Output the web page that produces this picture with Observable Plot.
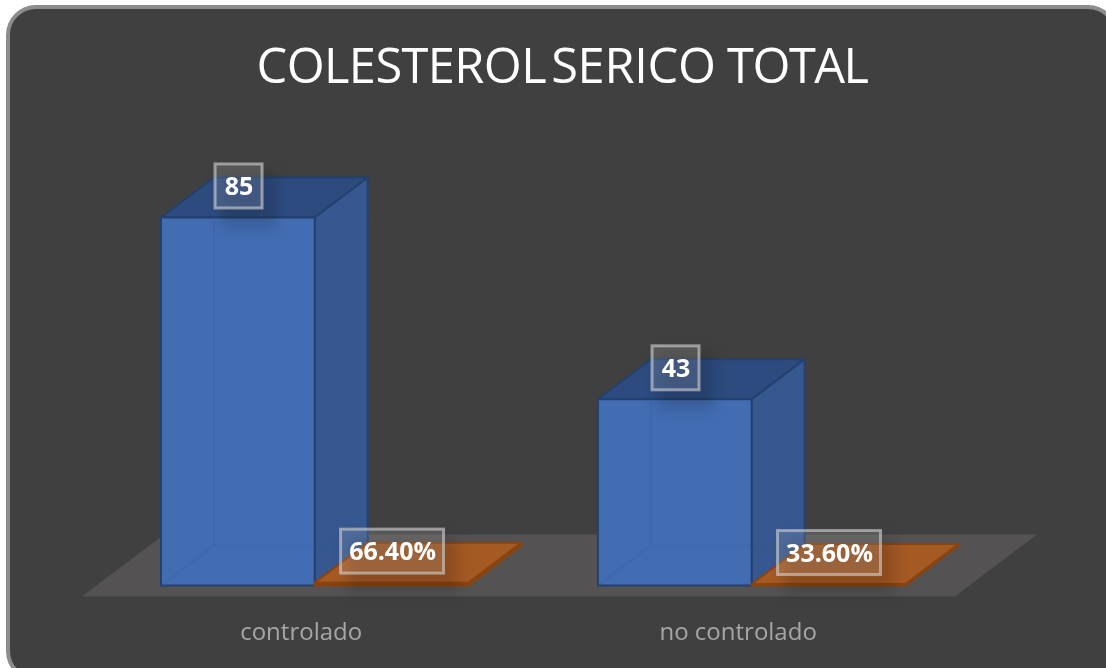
<!DOCTYPE html>
<html lang="es">
<head>
<meta charset="utf-8">
<script src="https://cdn.jsdelivr.net/npm/d3@7"></script>
<script src="https://cdn.jsdelivr.net/npm/@observablehq/plot@0.6"></script>
<style>
  html, body { margin: 0; padding: 0; background: #fff; width: 1106px; height: 668px; overflow: hidden; }
  #frame { position: absolute; left: 6px; top: 5px; width: 1112px; height: 676px; box-sizing: border-box;
           background: #404040; border: 4px solid #8c8c8c; border-radius: 30px; filter: blur(0.6px); }
  #title { position: absolute; left: 256.5px; top: 31px; margin: 0; color: #fff; filter: blur(0.35px);
           font: 400 48.8px "Open Sans", sans-serif; letter-spacing: -0.6px; white-space: nowrap; }
  #title .w1 { word-spacing: -6px; margin-right: -1px; }
  #title .w2 { letter-spacing: -0.3px; word-spacing: -1px; }
  #title .w3 { letter-spacing: -1.5px; }
  #chart { position: absolute; left: 0; top: 0; filter: blur(0.4px); }
  #chart svg { background: transparent !important; }
</style>
</head>
<body>
<div id="frame"></div>
<h1 id="title"><span class="w1">COLESTEROL </span><span class="w2">SERICO </span><span class="w3">TOTAL</span></h1>
<div id="chart"></div>
<script>
const categories = ["controlado", "no controlado"];
const casos = [85, 43];
const porcentajes = [0.664, 0.336];
const porcentajeLabels = ["66.40%", "33.60%"];

// layout of the oblique projection (in scale units)
const W = 1106, H = 668, floorPx = 596, basePx = 585, leftPx = 161;
const barPx = 153.7, valuePx = 4.33, slot = 2.843;
const depthX = 53 / barPx, depthY = 40 / valuePx;
const px = n => n / barPx, py = n => n / valuePx;
const proj = (x, v, z) => ({x: x + z * depthX, y: v + z * depthY});

function poly(points, id) { return points.map(p => ({...p, id})); }
function faces(x0, v) {
  const x1 = x0 + 1, P = proj;
  return {
    front:  poly([P(x0,0,0), P(x1,0,0), P(x1,v,0), P(x0,v,0)], "f" + x0),
    top:    poly([P(x0,v,0), P(x1,v,0), P(x1,v,1), P(x0,v,1)], "t" + x0),
    side:   poly([P(x1,0,0), P(x1,0,1), P(x1,v,1), P(x1,v,0)], "s" + x0),
    inner:  [...poly([P(x0,v,1), P(x0,0,1), P(x1,0,1)], "a" + x0), ...poly([P(x0,0,0), P(x0,0,1)], "b" + x0)]
  };
}
const blue = categories.map((_, i) => faces(i * slot, casos[i]));
const orange = categories.map((_, i) => faces(i * slot + 1, porcentajes[i]));
const pick = (set, k) => set.flatMap(f => f[k]);

const floorZ0 = -0.275, floorZ1 = 1.275, floorL = -0.42, floorR = 5.26;
const floor = poly([proj(floorL,0,floorZ0), proj(floorR,0,floorZ0), proj(floorR,0,floorZ1), proj(floorL,0,floorZ1)], "floor");

const labels = [
  ...categories.map((_, i) => ({cx: i * slot + 0.5 + px(1.2), v: casos[i], text: String(casos[i]), w: 47})),
  ...categories.map((_, i) => ({cx: i * slot + 1.5 + px(1), v: porcentajes[i], text: porcentajeLabels[i], w: 103}))
].map(d => ({...d,
  x1: d.cx - px(d.w / 2), x2: d.cx + px(d.w / 2),
  y1: d.v + py(9), y2: d.v + py(53),
  ty: d.v + py(30.5)
}));
const shadows = labels.map(d => ({
  x1: d.x1 + px(6), x2: d.x2 + px(14), y1: d.y1 - py(20), y2: d.y2 - py(8)
}));

const closed = (data, fill, stroke, extra = {}) => Plot.line(data, {
  x: "x", y: "y", z: "id", curve: "linear-closed", fill, stroke, strokeWidth: 2, strokeLinejoin: "round", ...extra
});

const chart = Plot.plot({
  width: W, height: H,
  marginTop: 0, marginLeft: 0, marginRight: 0, marginBottom: H - floorPx,
  style: {background: "transparent"},
  x: {type: "linear", domain: [-(leftPx - 0.5) / barPx, (W - leftPx + 0.5) / barPx], axis: null},
  y: {type: "linear", domain: [-(floorPx - basePx) / valuePx, basePx / valuePx], axis: null},
  marks: [
    closed(floor, "#545252", "none"),
    closed(pick(blue, "top"), "#2d4b7f", "#24406f"),
    closed(pick(blue, "side"), "#36578f", "#24406f"),
    closed(pick(blue, "front"), "#426db3", "#24406f"),
    Plot.line(pick(blue, "inner"), {x: "x", y: "y", z: "id", stroke: "#2f5596", strokeOpacity: 0.16, strokeWidth: 2}),
    closed(pick(orange, "side"), "#8a4410", "#8a4410"),
    closed(pick(orange, "top"), "#a55a24", "#8a4410"),
    closed(pick(orange, "front"), "#7f3d0e", "#8a4410"),
    Plot.rect(shadows, {x1: "x1", x2: "x2", y1: "y1", y2: "y2", fill: "#000", fillOpacity: 0.15, imageFilter: "blur(7px)"}),
    Plot.rect(labels, {x1: "x1", x2: "x2", y1: "y1", y2: "y2", fill: "#fff", fillOpacity: 0.13, stroke: "#d0d0d0", strokeOpacity: 0.62, strokeWidth: 3}),
    Plot.text(labels, {x: "cx", y: "ty", text: "text", fill: "#fff", fontSize: 25, fontWeight: 700, fontFamily: "Open Sans"}),
    Plot.axisX(categories.map((_, i) => i * slot + 0.912), {
      anchor: "bottom", tickSize: 0, tickPadding: 26, label: null, fontSize: 24, fontFamily: "Open Sans", fill: "#a6a6a6",
      tickFormat: (d, i) => categories[i]
    })
  ]
});
chart.style.fontFamily = "Open Sans";
document.getElementById("chart").append(chart);
</script>
</body>
</html>
